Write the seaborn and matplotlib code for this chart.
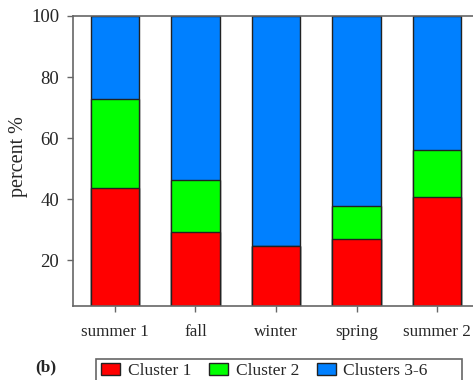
import numpy as np
import pandas as pd
import matplotlib
matplotlib.use("Agg")
import matplotlib.pyplot as plt
import seaborn as sns
from matplotlib.patches import Patch, Rectangle

categories = ["summer 1", "fall", "winter", "spring", "summer 2"]
cluster1 = [43.5, 29.3, 24.7, 27.0, 40.8]
cluster2 = [29.3, 16.9, 0.0, 10.8, 15.4]
clusters36 = [27.2, 53.8, 75.3, 62.2, 43.8]
series_names = ["Cluster 1", "Cluster 2", "Clusters 3-6"]
colors = ["#FF0000", "#00FF00", "#0080FF"]
yticks = [20, 40, 60, 80, 100]

sns.set_theme(style="white")
plt.rcParams["font.family"] = ["Liberation Serif", "DejaVu Serif"]

fig = plt.figure(figsize=(4.73, 3.80), dpi=100)
ax = fig.add_axes([73 / 473, 1 - 306 / 380, 406 / 473, 290 / 380])

c1 = np.array(cluster1)
c2 = c1 + np.array(cluster2)
c3 = c2 + np.array(clusters36)
layers = [c3, c2, c1]
layer_colors = [colors[2], colors[1], colors[0]]
for vals, col in zip(layers, layer_colors):
    df = pd.DataFrame({"season": categories, "value": vals})
    sns.barplot(data=df, x="season", y="value", color=col, width=0.6,
                edgecolor="#222222", linewidth=1.0, saturation=1.0, ax=ax,
                order=categories, errorbar=None)

ax.set_xlim(-0.52, 4.52)
ax.set_ylim(5, 100)
ax.set_yticks(yticks)
ax.set_yticklabels([str(v) for v in yticks])
ax.set_xlabel("")
ax.set_ylabel("percent %", fontsize=14.5)
ax.yaxis.set_label_coords(-0.111, 0.514)
ax.tick_params(axis="both", which="both", direction="out", length=4, width=1,
               color="#666666", left=True, bottom=True)
ax.tick_params(axis="y", pad=6, labelsize=13.5)
ax.tick_params(axis="x", pad=9, labelsize=12.3)
for s in ["left", "bottom", "top"]:
    ax.spines[s].set_color("#666666")
    ax.spines[s].set_linewidth(1.2)
ax.spines["right"].set_visible(False)

handles = [Patch(facecolor=c, edgecolor="#222222", linewidth=1.0) for c in colors]
leg = fig.legend(handles, series_names, loc="upper left",
                 bbox_to_anchor=(96 / 473, 1 - 358 / 380), ncol=3,
                 frameon=False, fontsize=12.5,
                 handlelength=1.1, handleheight=0.62, handletextpad=0.45,
                 columnspacing=1.0, borderpad=0.3, borderaxespad=0)
fig.patches.append(Rectangle((96 / 473, -0.05), (462 - 96) / 473,
                             0.05 + 1 - 359 / 380, transform=fig.transFigure,
                             fill=False, edgecolor="#666666", linewidth=1.2))

fig.text(35 / 473, 1 - 367 / 380, "(b)", fontsize=12.5, fontweight="bold",
         va="center", ha="left")

fig.savefig("out.png", dpi=100)
